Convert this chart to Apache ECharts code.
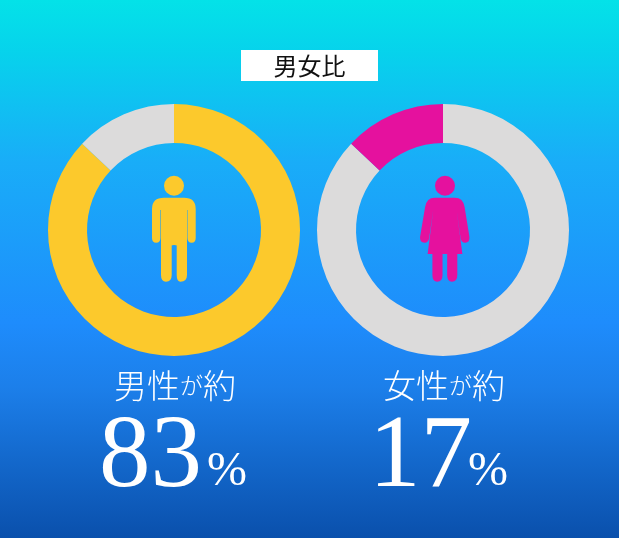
<!DOCTYPE html>
<html><head><meta charset="utf-8">
<style>html,body{margin:0;padding:0;background:#1e90ff}#c{width:619px;height:538px}</style>
<script src="https://cdn.jsdelivr.net/npm/echarts@6/dist/echarts.min.js"></script>
</head><body><div id="c"></div>
<script>
const titleText = '男女比';
const groupLabels = ['男性', '女性'];
const statedPercents = ['83', '17'];
const maleRing = [87, 13];
const femaleRing = [87, 13];
const maleColors = ['#fcc92c', '#dcdbdb'];
const femaleColors = ['#dcdbdb', '#e5119e'];

const SERIF = '"Liberation Serif","Noto Sans CJK JP",serif';
const JP = '"Noto Sans CJK JP","Liberation Serif",serif';

const malePath = 'M164 197.7H184Q195.7 197.7 195.7 209V238Q195.7 242.7 191.6 242.7Q187.5 242.7 187.5 238V210H187V275Q187 281.7 180.5 281.7Q176.7 281.7 176.7 275V245.5Q176.7 245 174 245Q171.7 245 171.7 245.5V275Q171.7 281.7 166 281.7Q161 281.7 161 275V210H160.4V238Q160.4 242.7 156.2 242.7Q152 242.7 152 238V209Q152 197.7 164 197.7Z';
const femalePath = 'M435 197.7H455Q463 197.7 464.5 207L469.3 237Q469.8 242.7 465 242.7Q461.3 242.7 460.5 238L456.7 210.5L462.3 254H457.3V275Q457.3 281.7 452 281.7Q447.3 281.7 447.3 275V254H442.7V275Q442.7 281.7 437.5 281.7Q432.7 281.7 432.7 275V254H428L433.5 210.5L429.5 238Q428.7 242.7 425 242.7Q420 242.7 420.5 237L425.5 207Q427 197.7 435 197.7Z';

function ring(cx, values, colors) {
  return {
    type: 'pie', silent: true, center: [cx, 230], radius: [87, 126],
    startAngle: 90, clockwise: true, label: {show: false}, labelLine: {show: false},
    animation: false,
    data: values.map((v, i) => ({value: v, itemStyle: {color: colors[i]}}))
  };
}
function icon(pathData, box, color) {
  return {
    type: 'custom', coordinateSystem: 'none', silent: true, animation: false, z: 5,
    data: [0],
    renderItem: () => ({
      type: 'path',
      shape: {pathData, x: box[0], y: box[1], width: box[2], height: box[3], layout: 'cover'},
      style: {fill: color}
    })
  };
}
function caption(cx, right, i) {
  return [
    {type: 'text', x: cx, y: 385, style: {
      text: '{a|' + groupLabels[i] + '}{b|が}{a|約}', align: 'center', verticalAlign: 'middle',
      rich: {
        a: {fontFamily: JP, fontSize: 33, fontWeight: 300, fill: '#fff'},
        b: {fontFamily: JP, fontSize: 23, fontWeight: 300, fill: '#fff'}
      }
    }},
    {type: 'text', x: right, y: 510, style: {
      text: statedPercents[i], align: 'right', verticalAlign: 'bottom',
      font: '400 103px ' + SERIF, fill: '#fff'
    }}
  ];
}
const chart = echarts.init(document.getElementById('c'), null, {renderer: 'canvas'});
chart.setOption({
  animation: false,
  backgroundColor: {type: 'linear', x: 0, y: 0, x2: 0, y2: 1, colorStops: [
    {offset: 0, color: '#04e2e8'},
    {offset: 0.1, color: '#07d2ec'},
    {offset: 0.3, color: '#19adf8'},
    {offset: 0.6, color: '#1e8cfc'},
    {offset: 0.72, color: '#1c7fea'},
    {offset: 1, color: '#0a50ac'}
  ]},
  series: [
    ring(174, maleRing, maleColors),
    ring(443, femaleRing, femaleColors),
    icon(malePath, [152, 197.7, 43.7, 84], maleColors[0]),
    icon(femalePath, [420, 197.7, 49.5, 84], femaleColors[1])
  ],
  graphic: [
    {type: 'rect', shape: {x: 241, y: 50, width: 137, height: 31}, style: {fill: '#fff'}},
    {type: 'text', x: 309.5, y: 66, style: {text: titleText, align: 'center', verticalAlign: 'middle', font: '400 24px ' + JP, fill: '#111'}},
    {type: 'circle', shape: {cx: 174, cy: 185.7, r: 10}, style: {fill: maleColors[0]}},
    {type: 'circle', shape: {cx: 445, cy: 185.7, r: 10}, style: {fill: femaleColors[1]}},
    ...caption(175, 202, 0),
    ...caption(444, 472, 1),
    {type: 'text', x: 227, y: 472, style: {text: '%', align: 'center', verticalAlign: 'middle', font: '400 48px ' + SERIF, fill: '#fff'}},
    {type: 'text', x: 488, y: 472, style: {text: '%', align: 'center', verticalAlign: 'middle', font: '400 48px ' + SERIF, fill: '#fff'}}
  ]
});
</script></body></html>
